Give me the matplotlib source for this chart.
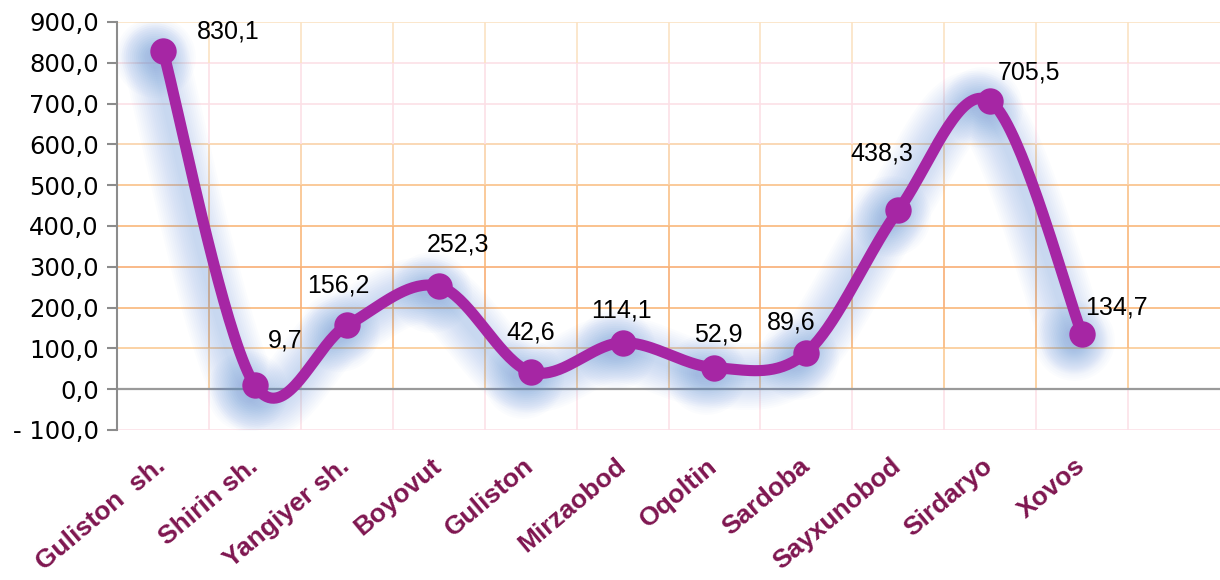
import matplotlib.pyplot as plt
import matplotlib.transforms as mtransforms
from matplotlib.collections import LineCollection
import numpy as np

# data
districts = ["Guliston  sh.", "Shirin sh.", "Yangiyer sh.", "Boyovut", "Guliston",
             "Mirzaobod", "Oqoltin", "Sardoba", "Sayxunobod", "Sirdaryo", "Xovos"]
values = [830.1, 9.7, 156.2, 252.3, 42.6, 114.1, 52.9, 89.6, 438.3, 705.5, 134.7]
value_labels = ["830,1", "9,7", "156,2", "252,3", "42,6", "114,1",
                "52,9", "89,6", "438,3", "705,5", "134,7"]
y_ticks = [-100, 0, 100, 200, 300, 400, 500, 600, 700, 800, 900]
y_tick_labels = ["- 100,0", "0,0", "100,0", "200,0", "300,0", "400,0",
                 "500,0", "600,0", "700,0", "800,0", "900,0"]

# label offsets in points (dx, dy) relative to the marker
label_offsets = [(47, 14), (22, 32), (-6, 29), (14, 30), (0, 28), (-1, 23),
                 (3, 24), (-11, 22), (-12, 41), (28, 21), (25, 19)]

# grid colour per horizontal level (peach / pink / orange gradient)
grid_colors = {-100: "#FCE1E8", 0: "#9A9A9A", 100: "#FBCB95", 200: "#F9B77A",
               300: "#F8AE74", 400: "#F9B77A", 500: "#FAC189", 600: "#FAD2A9",
               700: "#FCE0E6", 800: "#FCE0E6", 900: "#FBE3C4"}

PURPLE = "#A626A4"
LABEL_COLOR = "#7F1650"
GLOW = "#5B8FD6"


def smooth_curve(x, y, sx, sy, n=40):
    # catmull-rom style smoothing (like excel's smoothed line), done in pixel-ish space
    px = np.asarray(x, float) * sx
    py = np.asarray(y, float) * sy
    pts = np.column_stack([px, py])
    pts_ext = np.vstack([pts[0], pts, pts[-1]])
    out = []
    for i in range(len(pts) - 1):
        p0, p1, p2, p3 = pts_ext[i], pts_ext[i + 1], pts_ext[i + 2], pts_ext[i + 3]
        c1 = p1 + (p2 - p0) / 6.0
        c2 = p2 - (p3 - p1) / 6.0
        t = np.linspace(0, 1, n)[:, None]
        seg = ((1 - t) ** 3) * p1 + 3 * ((1 - t) ** 2) * t * c1 + 3 * (1 - t) * t ** 2 * c2 + t ** 3 * p2
        out.append(seg if i == 0 else seg[1:])
    out = np.vstack(out)
    return out[:, 0] / sx, out[:, 1] / sy


fig = plt.figure(figsize=(12.2, 5.8), dpi=100)
ax = fig.add_axes([117 / 1220, 150 / 580, 1 - 117 / 1220, 408 / 580])

x = np.arange(len(values))
ax.set_xlim(-0.5, 11.5)
ax.set_ylim(-100, 900)

# horizontal grid
for yv in y_ticks:
    lw = 1.6 if yv == 0 else 1.2
    ax.axhline(yv, color=grid_colors[yv], lw=lw, zorder=1 if yv != 0 else 1.5)

# vertical grid between categories, coloured by height band
levels = y_ticks
for xb in np.arange(0.5, 11.5, 1.0):
    segs = []
    cols = []
    for lo, hi in zip(levels[:-1], levels[1:]):
        segs.append([(xb, lo), (xb, hi)])
        cols.append(grid_colors[hi] if hi != 0 else grid_colors[-100])
    ax.add_collection(LineCollection(segs, colors=cols, linewidths=1.2, zorder=1))

# smoothed line
sx, sy = 92.0, 0.408
cx, cy = smooth_curve(x, values, sx, sy)

# soft blue glow, shifted a bit left and down
glow_tr = mtransforms.offset_copy(ax.transData, fig=fig, x=-8, y=-6, units="dots")
for w in range(6, 50, 3):
    ax.plot(cx, cy, color=GLOW, lw=w, alpha=0.025, solid_capstyle="round",
            solid_joinstyle="round", transform=glow_tr, zorder=2)
    ax.plot(x, values, "o", color=GLOW, ms=w + 10, alpha=0.025, mec="none",
            transform=glow_tr, zorder=2)

ax.plot(cx, cy, color=PURPLE, lw=8, solid_capstyle="round", zorder=3)
ax.plot(x, values, "o", color=PURPLE, ms=19, mec="none", zorder=4)

for xi, v, lab, (dx, dy) in zip(x, values, value_labels, label_offsets):
    ax.annotate(lab, (xi, v), xytext=(dx, dy), textcoords="offset points",
                ha="center", va="center", fontsize=18, family="Liberation Sans",
                color="black", zorder=5)

# axes styling
for side in ["top", "right", "bottom"]:
    ax.spines[side].set_visible(False)
ax.spines["left"].set_color("#8C8C8C")
ax.spines["left"].set_linewidth(1.5)

ax.set_yticks(y_ticks)
ax.set_yticklabels(y_tick_labels, fontsize=17.5, family="DejaVu Sans")
ax.tick_params(axis="y", length=7, width=1.5, color="#8C8C8C", pad=6)

ax.set_xticks(x)
ax.set_xticklabels(districts, rotation=40, ha="right", rotation_mode="anchor",
                   fontsize=19, fontweight="bold", family="Liberation Sans",
                   color=LABEL_COLOR)
ax.tick_params(axis="x", length=0, pad=17)
shift = mtransforms.ScaledTranslation(-8 / 100, 0, fig.dpi_scale_trans)
for lab in ax.get_xticklabels():
    lab.set_transform(lab.get_transform() + shift)

fig.savefig("out.png", dpi=100)
